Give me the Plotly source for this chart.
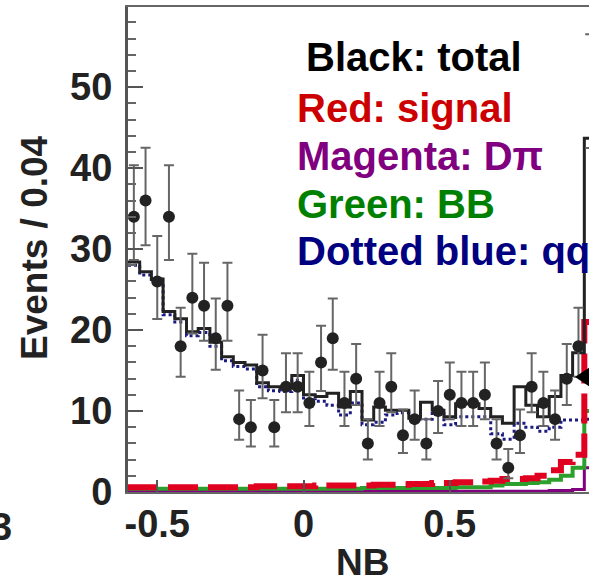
import numpy as np
import plotly.graph_objects as go

# ---- binning (NB from -0.6 to 1.0, 0.04 per bin) ----
bin_lo, bin_hi, n_bins = -0.6, 1.0, 40

# ---- data (events per bin) and asymmetric Poisson errors ----
data_counts = [34, 36, 26, 34, 18, 24, 23, 19, 23, 9, 8, 15, 8, 13, 13, 11, 16, 19, 11, 14,
               6, 11, 13, 7, 9, 6, 10, 12, 11, 11, 12, 6, 3, 7, 13, 11, 9, 14, 18, 49]
err_up = [6.35, 6.52, 5.62, 6.35, 4.77, 5.42, 5.32, 4.89, 5.32, 3.54, 3.37, 4.41, 3.37, 4.14,
          4.14, 3.85, 4.53, 4.89, 3.85, 4.27, 3.00, 3.85, 4.14, 3.19, 3.54, 3.00, 3.70, 4.00,
          3.85, 3.85, 4.00, 3.00, 2.30, 3.19, 4.14, 3.85, 3.54, 4.27, 4.77, 7.52]
err_dn = [5.35, 5.52, 4.62, 5.35, 3.77, 4.42, 4.32, 3.89, 4.32, 2.54, 2.37, 3.41, 2.37, 3.14,
          3.14, 2.85, 3.53, 3.89, 2.85, 3.27, 2.00, 2.85, 3.14, 2.19, 2.54, 2.00, 2.70, 3.00,
          2.85, 2.85, 3.00, 2.00, 1.30, 2.19, 3.14, 2.85, 2.54, 3.27, 3.77, 6.52]

# ---- fit components per bin ----
total = [28.4, 27.2, 26.3, 22.3, 21.4, 19.8, 20.2, 18.5, 16.7, 16.0, 15.7, 13.5, 13.0, 12.8,
         14.4, 12.0, 11.8, 12.2, 10.5, 12.4, 8.9, 10.5, 10.1, 10.1, 9.1, 11.1, 10.1, 9.3,
         10.9, 10.9, 10.3, 9.3, 8.5, 13.0, 10.7, 9.3, 11.8, 14.4, 17.2, 43.7]
qq = [28.0, 26.8, 25.9, 21.9, 21.0, 19.3, 19.7, 18.0, 16.2, 15.5, 15.2, 13.0, 12.5, 12.4,
      13.8, 11.4, 11.2, 10.7, 9.5, 11.0, 8.3, 8.6, 9.5, 9.8, 9.3, 9.0, 9.7, 8.3,
      9.3, 9.3, 9.3, 7.2, 6.5, 8.5, 8.0, 7.5, 8.0, 8.9, 8.9, 9.0]
signal = [0.6, 0.6, 0.6, 0.6, 0.6, 0.6, 0.6, 0.6, 0.6, 0.6, 0.6, 0.7, 0.7, 0.7, 0.7, 0.7,
          0.8, 0.8, 0.8, 0.8, 0.8, 0.9, 0.9, 0.9, 1.0, 1.0, 1.1, 1.1, 1.2, 1.2, 1.3, 1.4,
          1.6, 1.6, 1.7, 2.0, 2.7, 3.7, 4.6, 21.0]
bb = [0.4, 0.4, 0.4, 0.4, 0.4, 0.4, 0.4, 0.4, 0.4, 0.4, 0.4, 0.4, 0.4, 0.4, 0.4, 0.4,
      0.4, 0.4, 0.4, 0.4, 0.5, 0.5, 0.5, 0.5, 0.5, 0.5, 0.5, 0.5, 0.6, 0.6, 0.6, 0.8,
      1.0, 1.0, 1.1, 1.2, 1.5, 2.0, 3.0, 10.0]
dpi = [0.1, 0.1, 0.1, 0.1, 0.1, 0.1, 0.1, 0.1, 0.1, 0.1, 0.1, 0.1, 0.1, 0.1, 0.1, 0.1,
       0.1, 0.1, 0.1, 0.1, 0.1, 0.1, 0.1, 0.1, 0.1, 0.1, 0.1, 0.1, 0.1, 0.1, 0.1, 0.1,
       0.1, 0.1, 0.1, 0.1, 0.2, 0.2, 0.3, 3.0]

x_tickvals = [-0.5, 0, 0.5, 1.0]
x_ticktext = ["-0.5", "0", "0.5", "1"]

legend_lines = [("Black: total", "#000000"), ("Red: signal", "#cc0000"),
                ("Magenta: D\u03c0", "#800080"), ("Green: BB", "#008000"),
                ("Dotted blue: qq", "#000080")]

edges = np.linspace(bin_lo, bin_hi, n_bins + 1)
centers = 0.5 * (edges[:-1] + edges[1:])


def step(vals):
    return list(vals) + [vals[-1]]


FONT = "Liberation Sans, Arial, sans-serif"
fig = go.Figure()

fig.add_trace(go.Scatter(x=edges, y=step(dpi), mode="lines", line_shape="hv",
                         line=dict(color="#800080", width=3)))
fig.add_trace(go.Scatter(x=edges, y=step(bb), mode="lines", line_shape="hv",
                         line=dict(color="#2ca02c", width=4)))
fig.add_trace(go.Scatter(x=edges, y=step(qq), mode="lines", line_shape="hv",
                         line=dict(color="#1a1a80", width=3, dash="dot")))
fig.add_trace(go.Scatter(x=edges, y=step(signal), mode="lines", line_shape="hv",
                         line=dict(color="#e00020", width=6, dash="30px,10px")))
fig.add_trace(go.Scatter(x=edges, y=step(total), mode="lines", line_shape="hv",
                         line=dict(color="#222222", width=3)))
fig.add_trace(go.Scatter(
    x=centers, y=data_counts, mode="markers", cliponaxis=False,
    marker=dict(color="#222222", size=12),
    error_y=dict(type="data", symmetric=False, array=err_up, arrayminus=err_dn,
                 color="#666666", thickness=2, width=5)))

# plot-area pixel helpers for annotations
L, R, T, B = 128, 589, 7, 492


def px(xp):
    return (xp - L) / (R - L)


def py(yp):
    return (B - yp) / (B - T)


ann = []
leg_y = [57, 108, 156, 204, 251]
leg_x = [304, 295, 295, 295, 295]
for (txt, col), yy, xx in zip(legend_lines, leg_y, leg_x):
    ann.append(dict(text=txt, x=px(xx), y=py(yy), xref="paper", yref="paper",
                    xanchor="left", yanchor="middle", showarrow=False,
                    font=dict(family=FONT, size=40, color=col, weight="bold")))
ann.append(dict(text="Events / 0.04", x=px(34), y=py(248), xref="paper", yref="paper",
                xanchor="center", yanchor="middle", textangle=-90, showarrow=False,
                font=dict(family=FONT, size=37, color="#222222", weight="bold")))
ann.append(dict(text="NB", x=px(362), y=py(562), xref="paper", yref="paper",
                xanchor="center", yanchor="middle", showarrow=False,
                font=dict(family=FONT, size=37, color="#222222", weight="bold")))
ann.append(dict(text="3", x=px(14), y=py(527), xref="paper", yref="paper",
                xanchor="right", yanchor="middle", showarrow=False,
                font=dict(family=FONT, size=38, color="#222222", weight="bold")))

fig.update_layout(
    width=589, height=583,
    margin=dict(l=L, r=589 - R, t=T, b=583 - B, pad=0),
    paper_bgcolor="white", plot_bgcolor="white",
    showlegend=False,
    annotations=ann,
    shapes=[dict(type="path", xref="paper", yref="paper",
                 path=f"M {px(575)},{py(377)} L {px(590)},{py(367)} L {px(590)},{py(387)} Z",
                 fillcolor="black", line=dict(width=0))],
    xaxis=dict(range=[-0.6, 0.976], showgrid=False, zeroline=False,
               showline=True, linecolor="#666666", linewidth=2, mirror=True,
               tickmode="array", tickvals=x_tickvals, ticktext=x_ticktext,
               ticks="inside", ticklen=12, tickwidth=2, tickcolor="#555555",
               ticklabelstandoff=-3,
               tickfont=dict(family=FONT, size=38, color="#222222", weight="bold")),
    yaxis=dict(range=[0, 59.9], showgrid=False, zeroline=False,
               showline=True, linecolor="#555555", linewidth=3, mirror=False,
               tickmode="linear", tick0=0, dtick=10,
               ticks="inside", ticklen=15, tickwidth=2, tickcolor="#555555",
               minor=dict(ticks="inside", ticklen=8, tickwidth=2, tickcolor="#666666",
                          dtick=2, tick0=0),
               ticklabelstandoff=5,
               tickfont=dict(family=FONT, size=38, color="#222222", weight="bold")),
)

fig.write_html("out.html")
